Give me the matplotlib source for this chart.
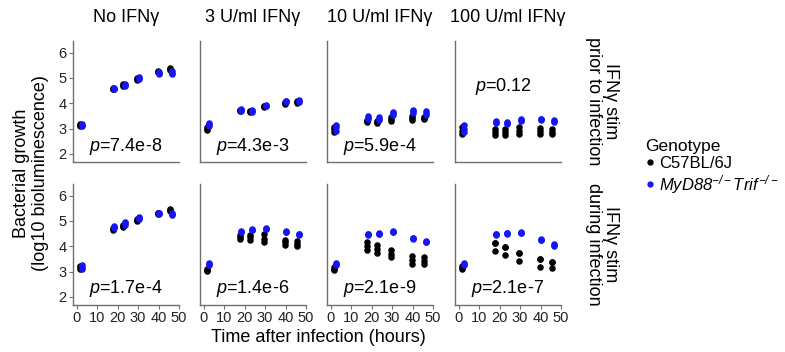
import matplotlib
matplotlib.use("Agg")
from matplotlib import pyplot as plt
import numpy as np

plt.rcParams['font.family'] = ['Liberation Sans', 'DejaVu Sans']
plt.rcParams['mathtext.fontset'] = 'custom'
plt.rcParams['mathtext.rm'] = 'Liberation Sans:italic'
plt.rcParams['mathtext.it'] = 'Liberation Sans:italic'

# time points (hours)
times = [2, 18, 23, 30, 40, 46]

col_titles = ['No IFNγ', '3 U/ml IFNγ', '10 U/ml IFNγ', '100 U/ml IFNγ']
row_titles = ['IFNγ stim\nprior to infection', 'IFNγ stim\nduring infection']

# p-values per panel [row][col]
pvals = [['7.4e-8', '4.3e-3', '5.9e-4', '0.12'],
         ['1.7e-4', '1.4e-6', '2.1e-9', '2.1e-7']]

# replicates at each time point, C57BL/6J, top row (prior to infection)
b6_prior = [
    [[3.12, 3.15, 3.18], [4.55, 4.58, 4.62], [4.68, 4.72, 4.75], [4.92, 4.95, 4.98], [5.22, 5.25, 5.28], [5.32, 5.36, 5.40]],
    [[2.95, 3.00, 3.05], [3.70, 3.72, 3.75], [3.66, 3.68, 3.70], [3.86, 3.88, 3.90], [3.98, 4.02, 4.05], [4.03, 4.06, 4.08]],
    [[2.88, 2.98, 3.08], [3.25, 3.30, 3.35], [3.22, 3.26, 3.30], [3.30, 3.37, 3.45], [3.35, 3.42, 3.48], [3.36, 3.41, 3.46]],
    [[2.80, 2.92, 3.05], [2.75, 2.87, 2.98], [2.75, 2.87, 2.98], [2.80, 2.92, 3.05], [2.78, 2.90, 3.02], [2.78, 2.88, 2.98]],
]
# MyD88-/-Trif-/-, top row
ko_prior = [
    [[3.12, 3.16, 3.20], [4.55, 4.58, 4.60], [4.70, 4.73, 4.76], [4.96, 5.00, 5.04], [5.15, 5.20, 5.24], [5.15, 5.20, 5.26]],
    [[3.10, 3.18, 3.24], [3.71, 3.73, 3.76], [3.67, 3.69, 3.72], [3.88, 3.91, 3.94], [4.05, 4.08, 4.10], [4.06, 4.09, 4.12]],
    [[2.92, 3.05, 3.15], [3.38, 3.43, 3.48], [3.32, 3.38, 3.44], [3.52, 3.60, 3.66], [3.60, 3.68, 3.75], [3.55, 3.63, 3.70]],
    [[2.85, 3.00, 3.15], [3.22, 3.25, 3.28], [3.20, 3.22, 3.25], [3.31, 3.34, 3.37], [3.33, 3.36, 3.39], [3.27, 3.30, 3.33]],
]
# C57BL/6J, bottom row (during infection)
b6_during = [
    [[3.12, 3.18, 3.22], [4.65, 4.68, 4.72], [4.78, 4.82, 4.86], [4.98, 5.02, 5.06], [5.28, 5.30, 5.33], [5.40, 5.43, 5.46]],
    [[3.04, 3.07, 3.10], [4.30, 4.38, 4.45], [4.25, 4.35, 4.45], [4.15, 4.30, 4.48], [4.05, 4.15, 4.25], [4.00, 4.10, 4.20]],
    [[3.06, 3.12, 3.19], [3.85, 4.00, 4.18], [3.73, 3.88, 4.05], [3.58, 3.70, 3.85], [3.30, 3.45, 3.60], [3.30, 3.43, 3.57]],
    [[3.09, 3.15, 3.22], [3.81, 4.14, 4.14], [3.65, 3.98, 3.98], [3.43, 3.75, 3.75], [3.19, 3.50, 3.50], [3.13, 3.39, 3.39]],
]
# MyD88-/-Trif-/-, bottom row
ko_during = [
    [[3.10, 3.18, 3.26], [4.72, 4.75, 4.80], [4.86, 4.90, 4.94], [5.08, 5.12, 5.15], [5.27, 5.30, 5.32], [5.25, 5.28, 5.30]],
    [[3.26, 3.30, 3.33], [4.55, 4.57, 4.59], [4.63, 4.65, 4.67], [4.67, 4.69, 4.71], [4.55, 4.57, 4.59], [4.46, 4.48, 4.50]],
    [[3.26, 3.29, 3.32], [4.46, 4.48, 4.50], [4.47, 4.49, 4.51], [4.56, 4.58, 4.60], [4.30, 4.32, 4.34], [4.16, 4.18, 4.20]],
    [[3.26, 3.30, 3.34], [4.46, 4.48, 4.50], [4.50, 4.52, 4.54], [4.52, 4.54, 4.56], [4.23, 4.25, 4.28], [4.03, 4.05, 4.08]],
]

W, H = 785, 352
fig = plt.figure(figsize=(W / 100, H / 100), dpi=100)

col_left = [73, 200, 327, 455]
row_top = [41, 184]
aw, ah = 106, 121
grey = '#707070'
blue = '#1515f5'

data = [(b6_prior, ko_prior), (b6_during, ko_during)]
for r in range(2):
    for c in range(4):
        ax = fig.add_axes([col_left[c] / W, 1 - (row_top[r] + ah) / H, aw / W, ah / H])
        b6, ko = data[r]
        for series, col, dx in [(b6, 'black', -0.4), (ko, blue, 0.4)]:
            reps = np.array(series[c])
            xs = np.repeat(np.array(times) + dx, reps.shape[1])
            ax.scatter(xs, reps.ravel(), s=22, color=col, linewidths=0, zorder=3)
        ax.set_xlim(-1.8, 50)
        ax.set_ylim(1.68, 6.46)
        ax.set_xticks([0, 10, 20, 30, 40, 50])
        ax.set_yticks([2, 3, 4, 5, 6])
        for s in ['top', 'right']:
            ax.spines[s].set_visible(False)
        for s in ['left', 'bottom']:
            ax.spines[s].set_color(grey)
            ax.spines[s].set_linewidth(1.0)
        ax.tick_params(colors=grey, labelcolor='#222222', length=3, width=0.8, labelsize=10.5, pad=1.5)
        if c > 0:
            ax.tick_params(axis='y', left=False, labelleft=False)
        if r == 0:
            ax.tick_params(axis='x', bottom=False, labelbottom=False)
        p = pvals[r][c]
        if p == '0.12':
            ax.text(0.46, 0.62, '$p$=' + p, transform=ax.transAxes, ha='center', va='center', fontsize=13)
        else:
            ax.text(0.5, 0.13 if r == 0 else 0.14, '$p$=' + p, transform=ax.transAxes,
                    ha='center', va='center', fontsize=13)
        if r == 0:
            ax.set_title(col_titles[c], fontsize=13, pad=14)

for r in range(2):
    yc = 1 - (row_top[r] + ah / 2) / H
    fig.text(602 / W, yc, row_titles[r], rotation=-90, ha='center', va='center',
             fontsize=13, linespacing=1.0)

fig.text(31 / W, 1 - 173 / H, 'Bacterial growth\n(log10 bioluminescence)', rotation=90,
         ha='center', va='center', fontsize=13, linespacing=1.1)
fig.text(318 / W, 1 - 338 / H, 'Time after infection (hours)', ha='center', va='center', fontsize=13)

h1 = plt.Line2D([], [], marker='o', color='black', linestyle='', markersize=3.5)
h2 = plt.Line2D([], [], marker='o', color=blue, linestyle='', markersize=3.5)
leg = fig.legend([h1, h2], ['C57BL/6J', r'$MyD88^{-/-}Trif^{-/-}$'],
                 title='Genotype', loc='upper left', bbox_to_anchor=(637 / W, 1 - 131 / H),
                 frameon=False, fontsize=12, title_fontsize=12.5, handlelength=0.5,
                 handletextpad=0.3, labelspacing=0.1, borderpad=0, alignment='left')

fig.savefig('out.png', dpi=100)
